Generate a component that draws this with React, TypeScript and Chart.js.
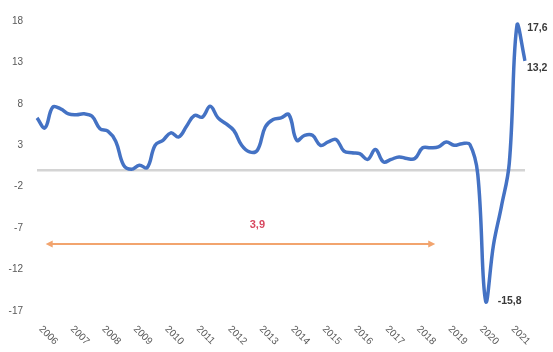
import React, { useEffect, useRef } from "react";
import { Chart, registerables } from "chart.js";
Chart.register(...registerables);

const years = ["2006","2007","2008","2009","2010","2011","2012","2013","2014","2015","2016","2017","2018","2019","2020","2021"];
const quarterNames = ["T1","T2","T3","T4"];
const categories = years.flatMap((y) => quarterNames.map((q) => `${y} ${q}`)).slice(0, 63);

const values = [
  6.3, 5.1, 7.6, 7.4, 6.8, 6.7, 6.8, 6.5,
  5.0, 4.7, 3.5, 0.6, 0.1, 0.6, 0.3, 3.0,
  3.6, 4.5, 4.0, 5.3, 6.6, 6.4, 7.7, 6.3,
  5.6, 4.8, 3.0, 2.2, 2.4, 5.2, 6.1, 6.3,
  6.7, 3.6, 4.2, 4.2, 3.0, 3.4, 3.7, 2.3,
  2.1, 2.0, 1.3, 2.5, 1.0, 1.3, 1.6, 1.4,
  1.4, 2.7, 2.7, 2.8, 3.4, 3.0, 3.2, 3.1,
  -0.5, -15.8, -9.0, -4.4, 0.8, 17.6, 13.2,
];

const yTicks = [-17, -12, -7, -2, 3, 8, 13, 18];

// labelled points: index, text
const pointLabels = [
  { index: 61, text: "17,6", dx: 10, dy: 4 },
  { index: 62, text: "13,2", dx: 2, dy: 7 },
  { index: 57, text: "-15,8", dx: 12, dy: 0 },
];

// average arrow
const averageText = "3,9";
const arrowFrom = 1.1;
const arrowTo = 50.6;
const arrowValue = -8.9;
const averageTextIndex = 28;
const averageTextValue = -6.6;

const overlayPlugin = {
  id: "overlay",
  beforeDatasetsDraw(chart: any) {
    const { ctx, chartArea, scales } = chart;
    const y0 = scales.y.getPixelForValue(0);
    ctx.save();
    ctx.strokeStyle = "#d4d4d4";
    ctx.lineWidth = 2.5;
    ctx.beginPath();
    ctx.moveTo(chartArea.left, y0);
    ctx.lineTo(chartArea.right, y0);
    ctx.stroke();
    ctx.restore();
  },
  afterDraw(chart: any) {
    const { ctx, chartArea, scales } = chart;
    const xs = scales.x;
    const ys = scales.y;
    ctx.save();
    // rotated year labels
    ctx.fillStyle = "#595959";
    ctx.font = "10px 'Liberation Sans', Arial, sans-serif";
    ctx.textAlign = "left";
    ctx.textBaseline = "middle";
    years.forEach((y, i) => {
      const x = xs.getPixelForValue(i * 4);
      ctx.save();
      ctx.translate(x + 3.5, chartArea.bottom + 16.5);
      ctx.rotate(Math.PI / 4);
      ctx.fillText(y, 0, 0);
      ctx.restore();
    });

    // point labels
    const meta = chart.getDatasetMeta(0);
    ctx.fillStyle = "#3a3a3a";
    ctx.font = "bold 10.5px 'Liberation Sans', Arial, sans-serif";
    ctx.textAlign = "left";
    ctx.textBaseline = "middle";
    pointLabels.forEach((p) => {
      const el = meta.data[p.index];
      ctx.fillText(p.text, el.x + p.dx, el.y + p.dy);
    });

    // arrow
    const ax1 = xs.getPixelForValue(arrowFrom);
    const ax2 = xs.getPixelForValue(arrowTo);
    const ay = ys.getPixelForValue(arrowValue);
    ctx.strokeStyle = "#f2a46e";
    ctx.fillStyle = "#f2a46e";
    ctx.lineWidth = 2;
    ctx.beginPath();
    ctx.moveTo(ax1 + 4, ay);
    ctx.lineTo(ax2 - 4, ay);
    ctx.stroke();
    const head = 7;
    ctx.beginPath();
    ctx.moveTo(ax1, ay);
    ctx.lineTo(ax1 + head, ay - 3.5);
    ctx.lineTo(ax1 + head, ay + 3.5);
    ctx.closePath();
    ctx.fill();
    ctx.beginPath();
    ctx.moveTo(ax2, ay);
    ctx.lineTo(ax2 - head, ay - 3.5);
    ctx.lineTo(ax2 - head, ay + 3.5);
    ctx.closePath();
    ctx.fill();

    ctx.fillStyle = "#d8475f";
    ctx.font = "bold 11px 'Liberation Sans', Arial, sans-serif";
    ctx.textAlign = "center";
    ctx.fillText(averageText, xs.getPixelForValue(averageTextIndex), ys.getPixelForValue(averageTextValue));
    ctx.restore();
  },
};

export default function App() {
  const ref = useRef<HTMLCanvasElement>(null);
  useEffect(() => {
    if (!ref.current) return;
    const chart = new Chart(ref.current, {
      type: "line",
      data: {
        labels: categories,
        datasets: [
          {
            data: values,
            borderColor: "#4472c4",
            borderWidth: 3.5,
            pointRadius: 0,
            tension: 0.4,
            fill: false,
          },
        ],
      },
      options: {
        animation: false,
        responsive: false,
        maintainAspectRatio: false,
        layout: { padding: { left: 0, right: 28, top: 21, bottom: 41 } },
        plugins: { legend: { display: false }, tooltip: { enabled: false } },
        scales: {
          x: {
            type: "category",
            offset: false,
            grid: { display: false },
            border: { display: false },
            ticks: { display: false },
            afterFit: (s: any) => { s.height = 0; },
          },
          y: {
            min: -17,
            max: 18,
            grid: { display: false },
            border: { display: false },
            afterBuildTicks: (s: any) => { s.ticks = yTicks.map((v) => ({ value: v })); },
            afterFit: (s: any) => { s.width = 37; },
            ticks: {
              padding: 6,
              color: "#595959",
              font: { family: "'Liberation Sans', Arial, sans-serif", size: 10 },
            },
          },
        },
      },
      plugins: [overlayPlugin],
    });
    return () => chart.destroy();
  }, []);
  return (
    <div style={{ position: "absolute", left: 0, top: 0, width: 553, height: 352, background: "#fff" }}>
      <canvas ref={ref} width={553} height={352} style={{ width: 553, height: 352 }} />
    </div>
  );
}
